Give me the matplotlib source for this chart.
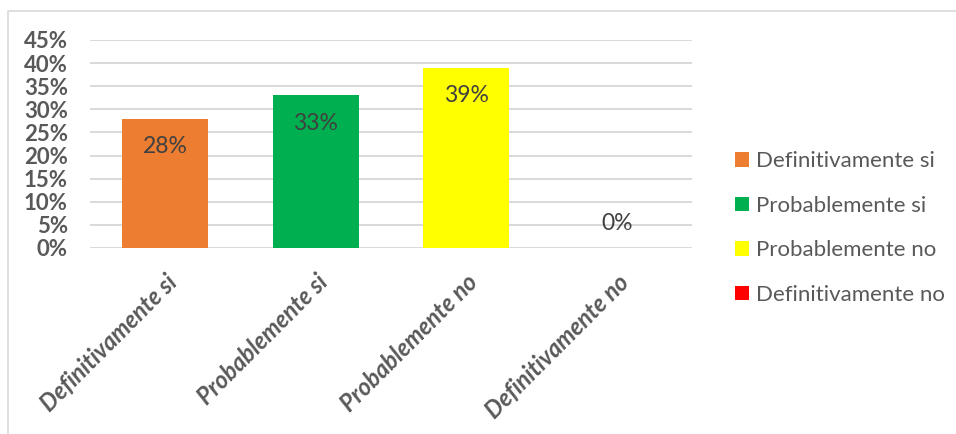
import matplotlib.pyplot as plt
from matplotlib.patches import Rectangle

plt.rcParams['font.family'] = ['Lato', 'DejaVu Sans']

categorias = ['Definitivamente si', 'Probablemente si', 'Probablemente no', 'Definitivamente no']
valores = [0.28, 0.33, 0.39, 0.0]
colores = ['#ED7D31', '#00B050', '#FFFF00', '#FF0000']
yticks = [0, 0.05, 0.10, 0.15, 0.20, 0.25, 0.30, 0.35, 0.40, 0.45]

fig = plt.figure(figsize=(9.56, 4.34), dpi=100)
ax = fig.add_axes([90/956, 1-248/434, 602/956, 208/434])

x = range(len(categorias))
barras = ax.bar(x, valores, width=0.573, color=colores, zorder=3)

# etiquetas de datos (dentro de la barra, o encima si es 0)
for xi, v in zip(x, valores):
    if v > 0:
        ax.annotate('%d%%' % round(v*100), xy=(xi, v), xytext=(0, -20),
                    textcoords='offset points', ha='center', va='center',
                    fontsize=16.5, color='#404040', zorder=4)
    else:
        ax.annotate('%d%%' % round(v*100), xy=(xi, v), xytext=(0, 18),
                    textcoords='offset points', ha='center', va='center',
                    fontsize=16.5, color='#404040', zorder=4)

ax.set_xlim(-0.5, 3.5)
ax.set_ylim(0, 0.45)
ax.set_yticks(yticks)
ax.set_yticklabels(['%d%%' % round(t*100) for t in yticks],
                   fontsize=16, fontweight='bold', color='#595959')
ax.set_xticks(list(x))
ax.set_xticklabels(categorias, rotation=45, ha='right', va='top',
                   rotation_mode='anchor', fontsize=17, fontweight='bold',
                   fontstyle='italic', color='#595959')
ax.tick_params(axis='y', length=0, pad=16)
ax.tick_params(axis='x', length=0, pad=16)
ax.grid(axis='y', color='#D9D9D9', linewidth=1.4, zorder=0)
for s in ax.spines.values():
    s.set_visible(False)

# borde del grafico
fig.patches.append(Rectangle((8/956, -0.05), 1.0, 1-11/434+0.05,
                             transform=fig.transFigure, fill=False,
                             edgecolor='#D9D9D9', linewidth=1.2))

leg = fig.legend(barras.patches, categorias, loc='center left',
                 bbox_to_anchor=(715/956, 1-228/434), frameon=False,
                 fontsize=16, handlelength=0.63, handleheight=0.63,
                 handletextpad=0.3, labelspacing=1.1)
for t in leg.get_texts():
    t.set_color('#595959')

fig.savefig('out.png', dpi=100)
